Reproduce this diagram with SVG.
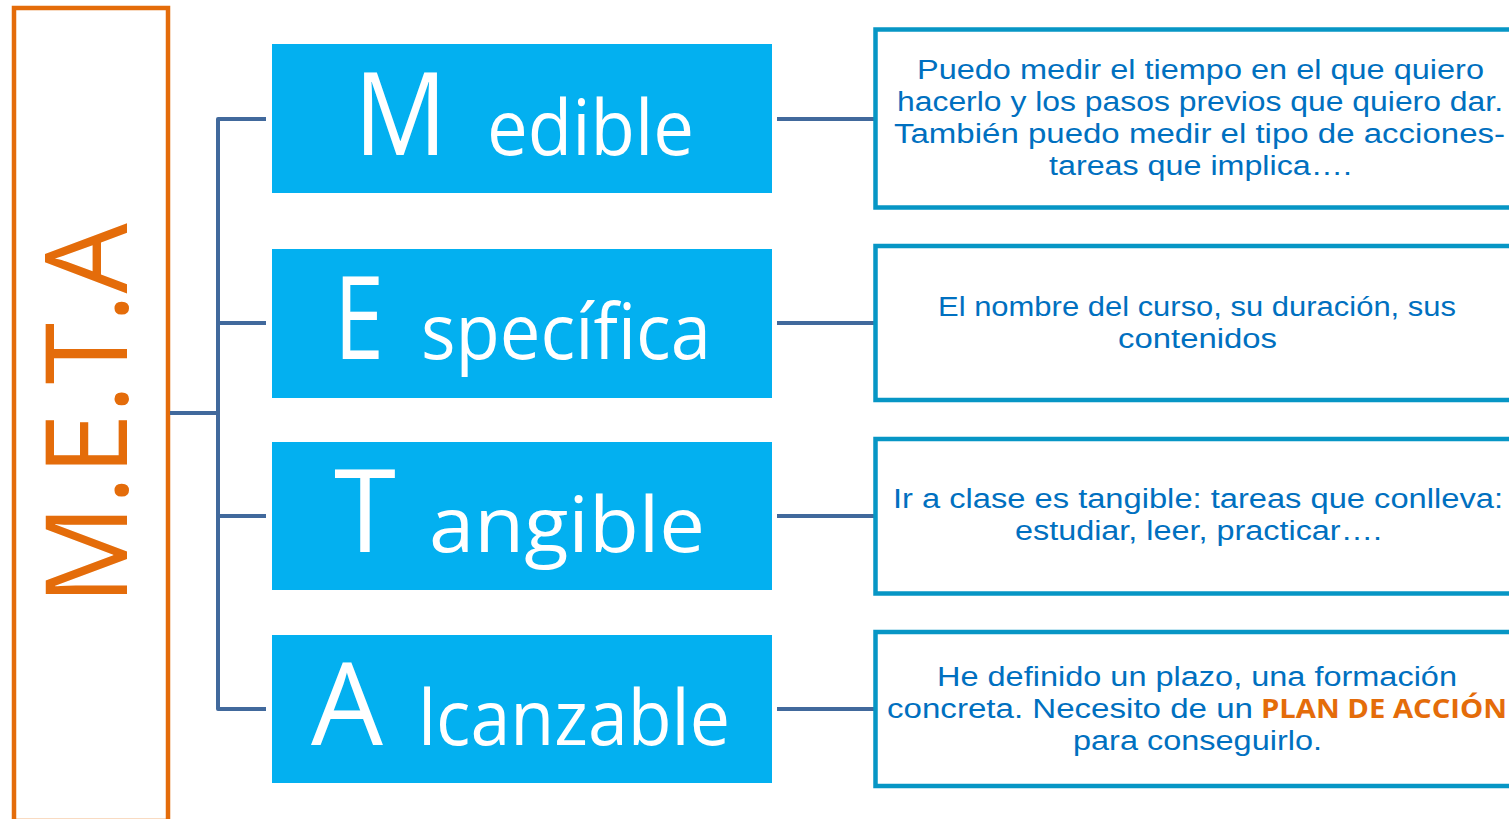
<svg xmlns="http://www.w3.org/2000/svg" width="1509" height="819" viewBox="0 0 1509 819">
<style>
.meta{fill:#fff;stroke:#E46C0A;stroke-width:4.5}
.metat{fill:#E46C0A;font-family:"Open Sans","Liberation Sans",sans-serif;font-size:113px}
.conn{fill:none;stroke:#41699C;stroke-width:4;stroke-linejoin:round}
.blue{fill:#03B0F0}
.big{fill:#fff;font-family:"Open Sans","Liberation Sans",sans-serif;font-size:115px}
.sm{fill:#fff;font-family:"Open Sans","Liberation Sans",sans-serif;font-size:77px}
.desc{fill:#fff;stroke:#0796C5;stroke-width:4.5}
.dt{fill:#0070C0;font-family:"Liberation Sans","DejaVu Sans",sans-serif;font-size:27px}
.hl{fill:#E46C0A;font-family:"Open Sans","Liberation Sans",sans-serif;font-size:27px;font-weight:bold}
</style>
<g id="meta">
<rect class="meta" x="14" y="8" width="154" height="813"/>
<text class="metat" transform="translate(127,414) rotate(-90)" text-anchor="middle" textLength="382" lengthAdjust="spacingAndGlyphs">M.E.T.A</text>
</g>
<g id="connectors">
<path class="conn" d="M170,413 H218"/>
<path class="conn" d="M266,119 H218 V709 H266"/>
<path class="conn" d="M218,323 H266"/>
<path class="conn" d="M218,516 H266"/>
<path class="conn" d="M777,119 H876"/>
<path class="conn" d="M777,323 H876"/>
<path class="conn" d="M777,516 H876"/>
<path class="conn" d="M777,709 H876"/>
</g>
<g id="medible">
<rect class="blue" x="272" y="44" width="500" height="149"/>
<text class="big" x="354" y="155" textLength="93" lengthAdjust="spacingAndGlyphs">M</text>
<text class="sm" x="487" y="155" textLength="207" lengthAdjust="spacingAndGlyphs">edible</text>
</g>
<g id="especifica">
<rect class="blue" x="272" y="249" width="500" height="149"/>
<text class="big" x="334" y="359" textLength="50" lengthAdjust="spacingAndGlyphs">E</text>
<text class="sm" x="421" y="359" textLength="290" lengthAdjust="spacingAndGlyphs">specífica</text>
</g>
<g id="tangible">
<rect class="blue" x="272" y="442" width="500" height="148"/>
<text class="big" x="334" y="552" textLength="62" lengthAdjust="spacingAndGlyphs">T</text>
<text class="sm" x="429" y="552" textLength="276" lengthAdjust="spacingAndGlyphs">angible</text>
</g>
<g id="alcanzable">
<rect class="blue" x="272" y="635" width="500" height="148"/>
<text class="big" x="311" y="745" textLength="72" lengthAdjust="spacingAndGlyphs">A</text>
<text class="sm" x="418" y="745" textLength="312" lengthAdjust="spacingAndGlyphs">lcanzable</text>
</g>
<g id="desc-medible">
<rect class="desc" x="875.5" y="29.5" width="660" height="178"/>
<text class="dt" x="917" y="79" textLength="567" lengthAdjust="spacingAndGlyphs">Puedo medir el tiempo en el que quiero</text>
<text class="dt" x="897" y="111" textLength="606" lengthAdjust="spacingAndGlyphs">hacerlo y los pasos previos que quiero dar.</text>
<text class="dt" x="894" y="143" textLength="611" lengthAdjust="spacingAndGlyphs">También puedo medir el tipo de acciones-</text>
<text class="dt" x="1049" y="175" textLength="303" lengthAdjust="spacingAndGlyphs">tareas que implica….</text>
</g>
<g id="desc-especifica">
<rect class="desc" x="875.5" y="246" width="660" height="154"/>
<text class="dt" x="938" y="316" textLength="518" lengthAdjust="spacingAndGlyphs">El nombre del curso, su duración, sus</text>
<text class="dt" x="1118" y="348" textLength="159" lengthAdjust="spacingAndGlyphs">contenidos</text>
</g>
<g id="desc-tangible">
<rect class="desc" x="875.5" y="439" width="660" height="154.5"/>
<text class="dt" x="893" y="508" textLength="610" lengthAdjust="spacingAndGlyphs">Ir a clase es tangible:  tareas que conlleva:</text>
<text class="dt" x="1015" y="540" textLength="367" lengthAdjust="spacingAndGlyphs">estudiar, leer, practicar….</text>
</g>
<g id="desc-alcanzable">
<rect class="desc" x="875.5" y="632" width="660" height="154"/>
<text class="dt" x="937" y="686" textLength="520" lengthAdjust="spacingAndGlyphs">He definido un plazo, una formación</text>
<text class="dt" x="887" y="718" textLength="366" lengthAdjust="spacingAndGlyphs">concreta. Necesito de un </text>
<text class="hl" x="1261" y="718" textLength="246" lengthAdjust="spacingAndGlyphs">PLAN DE ACCIÓN</text>
<text class="dt" x="1073" y="750" textLength="249" lengthAdjust="spacingAndGlyphs">para conseguirlo.</text>
</g>
</svg>
